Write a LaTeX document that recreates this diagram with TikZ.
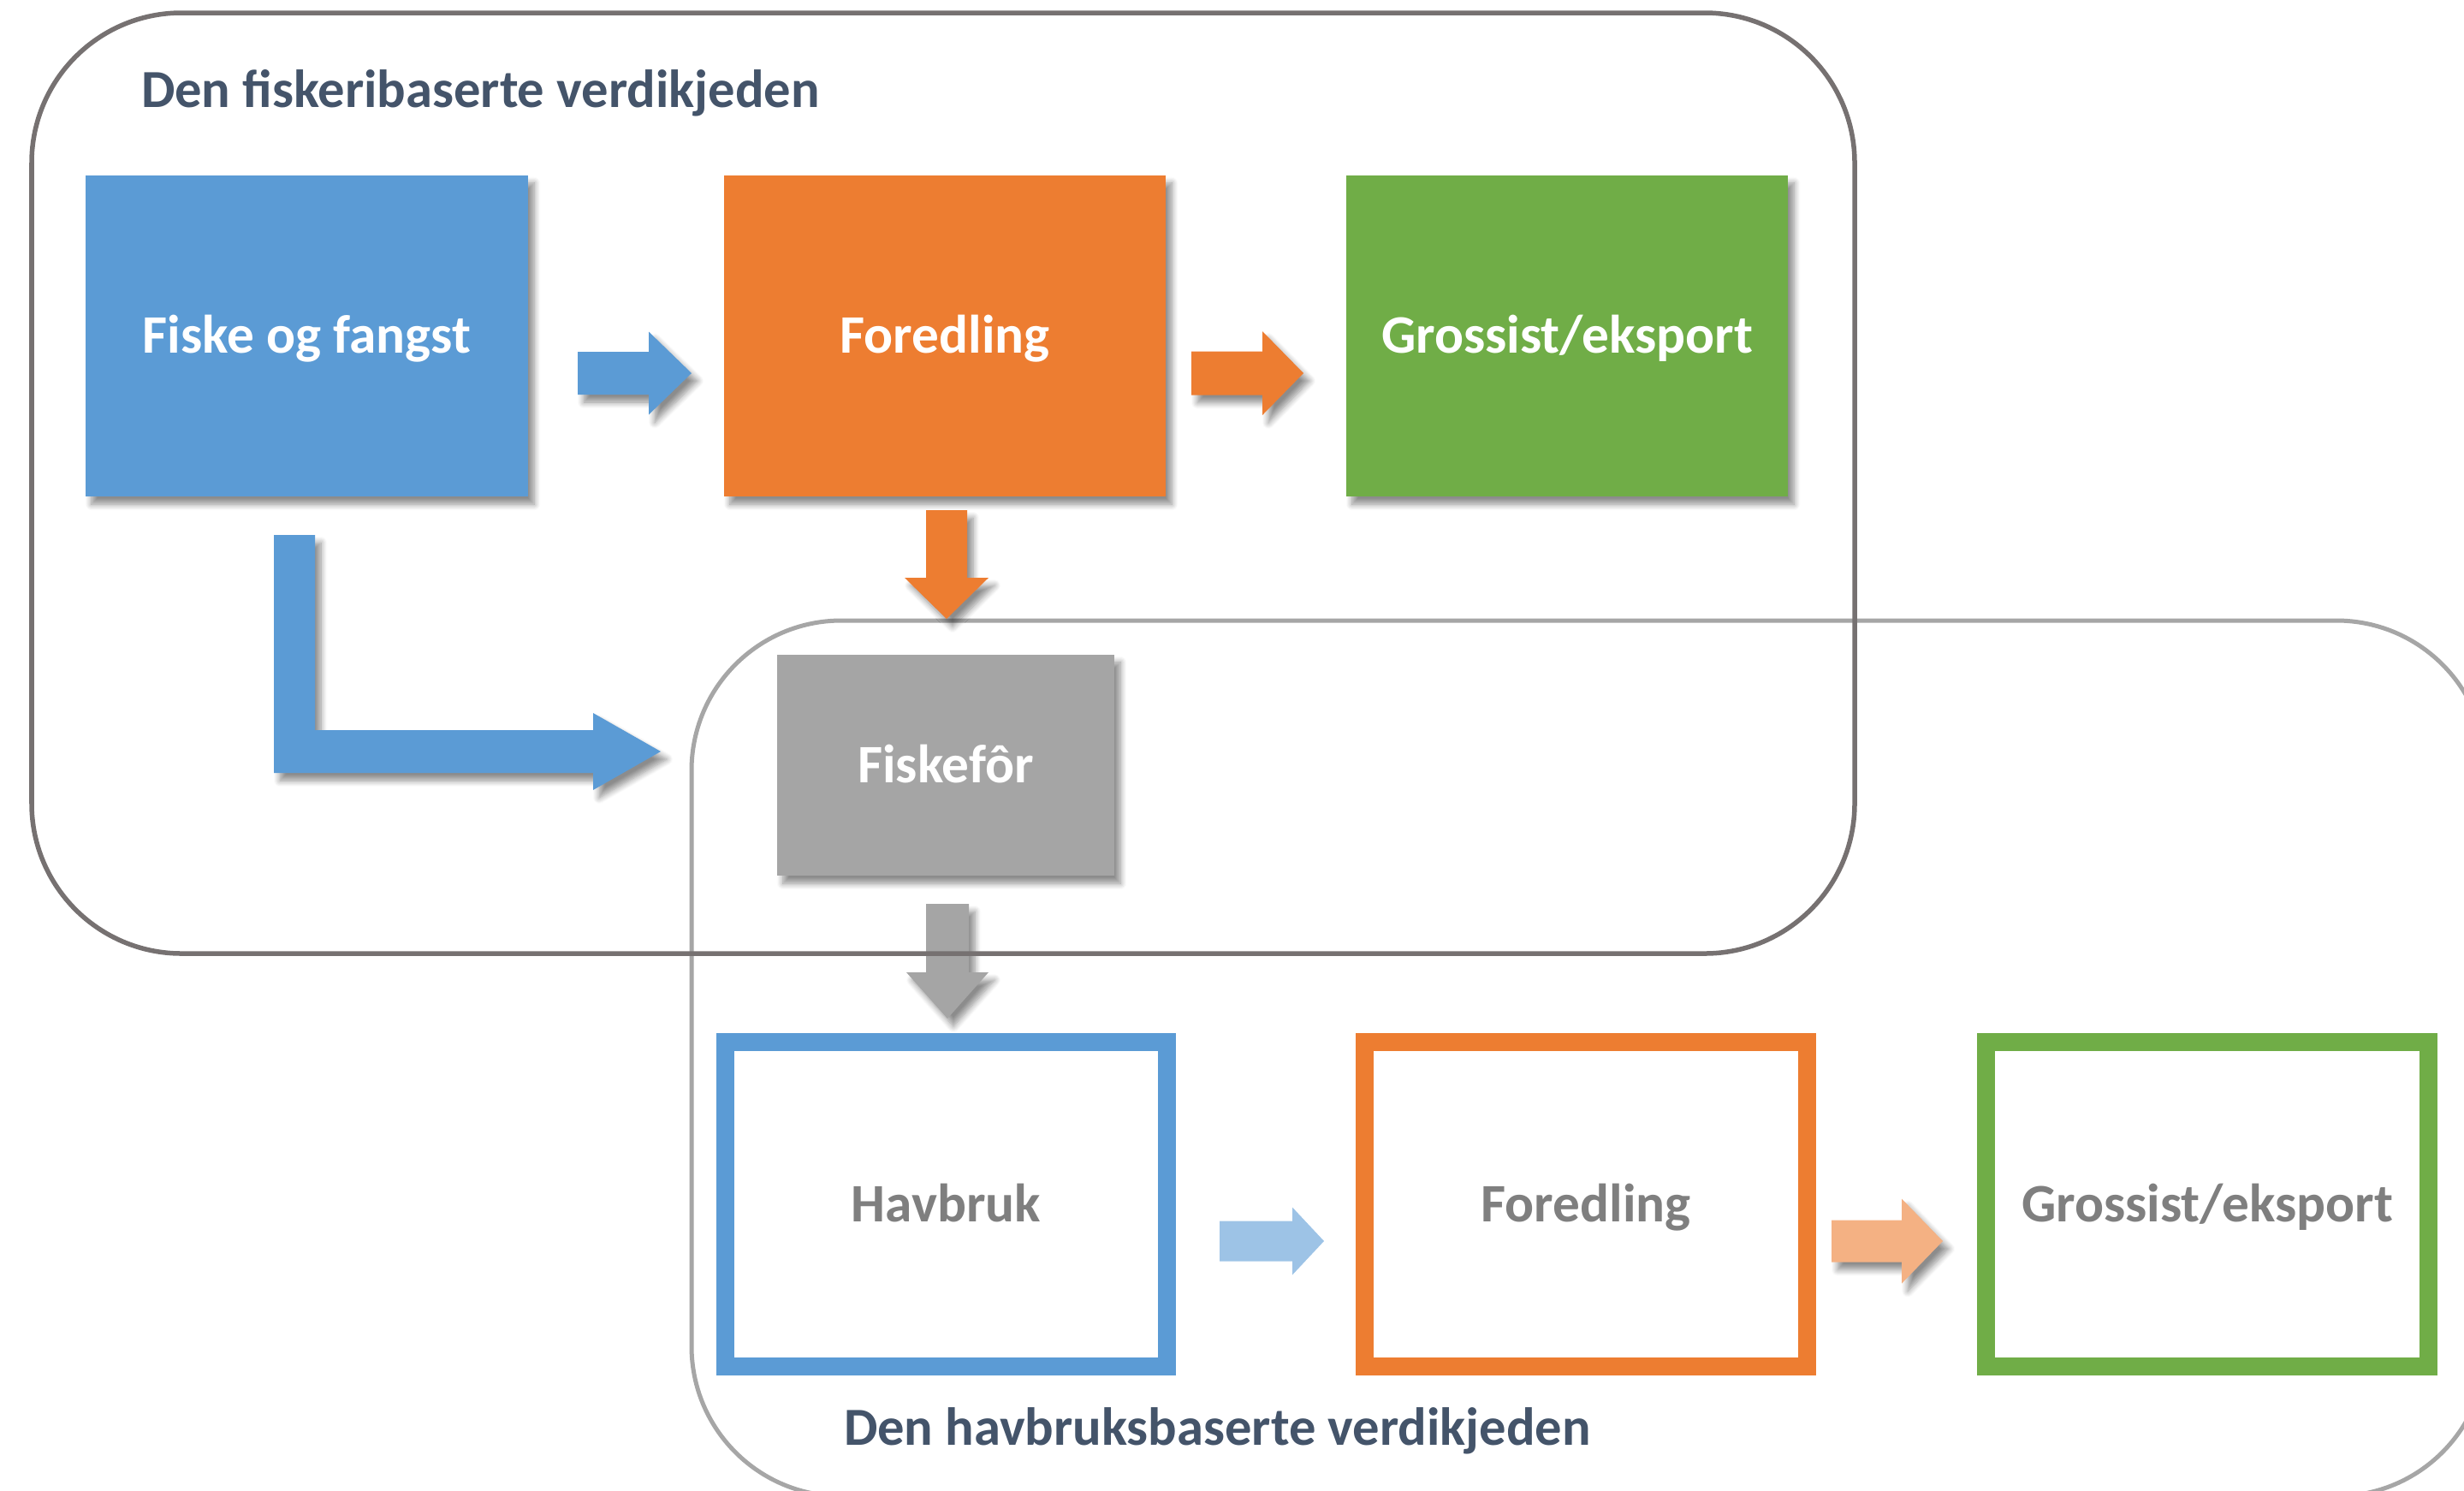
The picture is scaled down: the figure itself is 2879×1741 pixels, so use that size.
\documentclass[tikz,border=0pt]{standalone}
\usepackage{fontspec}
\setmainfont{Carlito}
\usetikzlibrary{shadows.blur}
\definecolor{cblue}{HTML}{5B9BD5}
\definecolor{corange}{HTML}{ED7D31}
\definecolor{cgreen}{HTML}{70AD47}
\definecolor{cgray}{HTML}{A5A5A5}
\definecolor{clblue}{HTML}{9DC3E6}
\definecolor{clorange}{HTML}{F4B183}
\definecolor{ctitle}{HTML}{44546A}
\definecolor{cframeA}{HTML}{767171}
\definecolor{cframeB}{HTML}{A6A6A6}
\definecolor{ctextgray}{HTML}{7F7F7F}
\newcommand\hblockarrow[7]{\fill[#7] (#1,#4-#5) -- (#2,#4-#5) -- (#2,#4-#6) -- (#3,#4) -- (#2,#4+#6) -- (#2,#4+#5) -- (#1,#4+#5) -- cycle;}
\newcommand\vblockarrow[7]{\fill[#7] (#4-#5,#1) -- (#4+#5,#1) -- (#4+#5,#2) -- (#4+#6,#2) -- (#4,#3) -- (#4-#6,#2) -- (#4-#5,#2) -- cycle;}
\begin{document}
\begin{tikzpicture}[x=0.01cm,y=-0.01cm,
  shad/.style={blur shadow={shadow xshift=0.07cm,shadow yshift=-0.09cm,shadow blur radius=0.07cm,shadow blur steps=8,shadow opacity=45}},
  lbl/.style={font=\fontsize{18pt}{21pt}\selectfont\bfseries, text height=11.4pt, text depth=0pt, inner sep=0pt, outer sep=0pt},
  solidbox/.style={lbl, shad, text=white, minimum height=3.75cm},
  framebox/.style={lbl, draw=#1, line width=0.21cm, fill=white, text=ctextgray, minimum width=5.16cm, minimum height=3.79cm},
  frame/.style={rounded corners=1.75cm, line width=0.055cm}
]
\useasboundingbox (0,0) rectangle (2879,1741);
\clip (0,0) rectangle (2879,1741);

% aquaculture frame
\draw[frame, draw=cframeB, line width=0.05cm] (808,725) rectangle (2905,1748);

% top row
\node[solidbox, fill=cblue, minimum width=5.17cm] (fiske) at (358.5,392.5) {Fiske og fangst};
\node[solidbox, fill=corange, minimum width=5.16cm] (foredA) at (1104,392.5) {Foredling};
\node[solidbox, fill=cgreen, minimum width=5.16cm] (grossA) at (1831,392.5) {Grossist/eksport};

% feed
\node[lbl, shad, fill=cgray, text=white, minimum width=3.94cm, minimum height=2.58cm] (for) at (1105,894) {Fiskefôr};

% bottom row
\node[framebox=cblue] (havbruk) at (1105.5,1407) {Havbruk};
\node[framebox=corange] (foredB) at (1853,1407) {Foredling};
\node[framebox=cgreen] (grossB) at (2579,1407) {Grossist/eksport};

% arrows
\hblockarrow{675}{758}{808}{436}{25}{48.5}{cblue,shad}
\hblockarrow{1392}{1475}{1523}{436}{25.5}{49}{corange,shad}
\hblockarrow{1425}{1510}{1547}{1450}{23.5}{39.5}{clblue}
\hblockarrow{2140}{2222}{2270}{1450}{24.5}{49.5}{clorange,shad}
\vblockarrow{596}{675}{723}{1106}{24}{49}{corange,shad}
\vblockarrow{1056}{1136}{1190}{1107}{25}{48}{cgray,shad}
\fill[cblue,shad] (320,625) -- (368,625) -- (368,853) -- (693,853) -- (693,833) -- (772,878) -- (693,923) -- (693,903) -- (320,903) -- cycle;

% fishery frame
\draw[frame, draw=cframeA] (37,15) rectangle (2167,1114);

% titles
\node[lbl, font=\fontsize{17.8pt}{21pt}\selectfont\bfseries, text=ctitle, anchor=base west] (titleA) at (165,125) {Den fiskeribaserte verdikjeden};
\node[lbl, font=\fontsize{17.8pt}{21pt}\selectfont\bfseries, text=ctitle, anchor=base west] (titleB) at (986,1688) {Den havbruksbaserte verdikjeden};
\end{tikzpicture}
\end{document}
